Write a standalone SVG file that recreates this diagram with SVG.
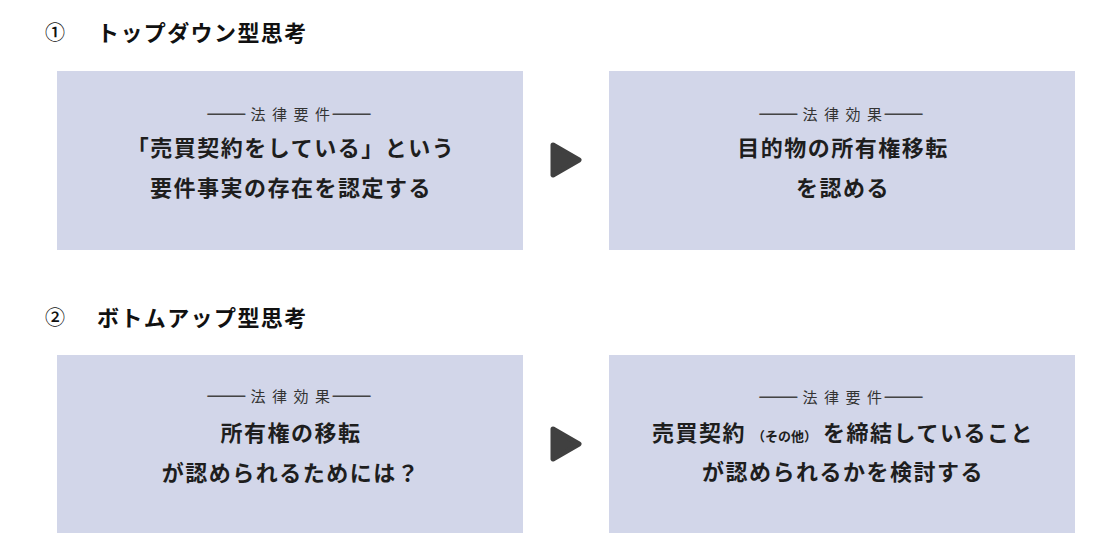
<svg xmlns="http://www.w3.org/2000/svg" width="1120" height="558" viewBox="0 0 1120 558">
<style>
.bg{fill:#ffffff}
.box{fill:#d2d6e9}
.title{font-family:"Noto Sans CJK JP","Noto Sans",sans-serif;font-size:22px;font-weight:700;fill:#111;letter-spacing:1.4px}
.num{font-family:"Noto Sans CJK JP","Noto Sans",sans-serif;font-size:20px;font-weight:500;fill:#111}
.label{font-family:"Noto Sans CJK JP","Noto Sans",sans-serif;font-size:15px;font-weight:400;fill:#333;text-anchor:middle}
.label .dash{letter-spacing:0;font-size:24px;fill:#444}
.label .word{letter-spacing:6.5px;font-size:15px}
.main{font-family:"Noto Sans CJK JP","Noto Sans",sans-serif;font-size:22px;font-weight:700;fill:#1e1e1e;text-anchor:middle;letter-spacing:1.5px}
.small{font-size:13px;letter-spacing:0}
.arrow{fill:#404040;stroke:#404040;stroke-width:5;stroke-linejoin:round}
</style>
<rect class="bg" x="0" y="0" width="1120" height="558"/>

<g id="title1">
<text class="num" x="55" y="40" text-anchor="middle">①</text>
<text class="title" x="97" y="41">トップダウン型思考</text>
</g>

<g id="node-topdown-requirement">
<rect class="box" x="57" y="71" width="466" height="179"/>
<text class="label" x="289" y="119.5"><tspan class="dash" dy="1">——</tspan><tspan class="word" dx="4" dy="-1">法律要件</tspan><tspan class="dash" dx="-5" dy="1">——</tspan></text>
<text class="main" x="291" y="155.5">「売買契約をしている」という</text>
<text class="main" x="291" y="195.5">要件事実の存在を認定する</text>
</g>

<g id="node-topdown-effect">
<rect class="box" x="609" y="71" width="466" height="179"/>
<text class="label" x="841" y="119.5"><tspan class="dash" dy="1">——</tspan><tspan class="word" dx="4" dy="-1">法律効果</tspan><tspan class="dash" dx="-5" dy="1">——</tspan></text>
<text class="main" x="843" y="155.5">目的物の所有権移転</text>
<text class="main" x="843" y="195.5">を認める</text>
</g>

<g id="title2">
<text class="num" x="55" y="325" text-anchor="middle">②</text>
<text class="title" x="97" y="326">ボトムアップ型思考</text>
</g>

<g id="node-bottomup-effect">
<rect class="box" x="57" y="355" width="466" height="178"/>
<text class="label" x="289" y="401.5"><tspan class="dash" dy="1">——</tspan><tspan class="word" dx="4" dy="-1">法律効果</tspan><tspan class="dash" dx="-5" dy="1">——</tspan></text>
<text class="main" x="291" y="440.5">所有権の移転</text>
<text class="main" x="291" y="480.5">が認められるためには？</text>
</g>

<g id="node-bottomup-requirement">
<rect class="box" x="609" y="355" width="466" height="178"/>
<text class="label" x="841" y="402.5"><tspan class="dash" dy="1">——</tspan><tspan class="word" dx="4" dy="-1">法律要件</tspan><tspan class="dash" dx="-5" dy="1">——</tspan></text>
<text class="main" x="843" y="440.5">売買契約<tspan class="small" dx="6">（その他）</tspan><tspan dx="6">を締結していること</tspan></text>
<text class="main" x="843" y="480">が認められるかを検討する</text>
</g>

<g id="connectors">
<polygon class="arrow" points="553,145 579,160 553,175"/>
<polygon class="arrow" points="553,429 579,444 553,459"/>
</g>
</svg>
